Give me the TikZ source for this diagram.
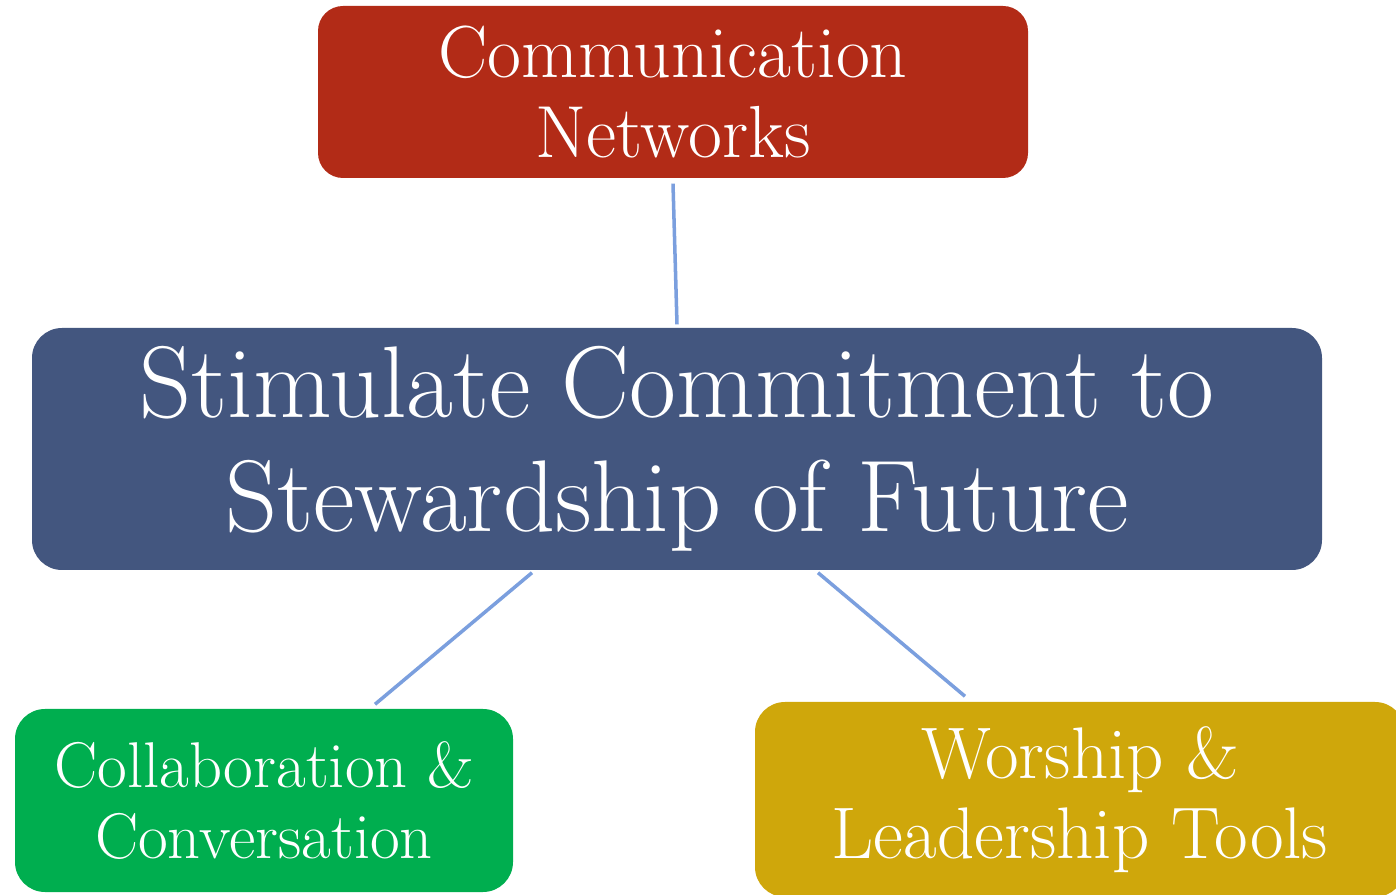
\documentclass[tikz,border=0pt]{standalone}
\usepackage{fontspec}
\usetikzlibrary{positioning}
\definecolor{commred}{RGB}{178,43,23}
\definecolor{stimblue}{RGB}{67,86,127}
\definecolor{collabgreen}{RGB}{0,174,79}
\definecolor{worshipgold}{RGB}{207,167,11}
\definecolor{linkblue}{RGB}{123,159,222}
\begin{document}
\begin{tikzpicture}[x=1cm,y=-1cm,
		box/.style={rounded corners=0.3cm, align=center, text=white, inner sep=0pt},
		link/.style={draw=linkblue, line width=1pt}]
		\useasboundingbox (0,0) rectangle (13.96,8.95);
		
		\node[box, fill=commred, minimum width=7.10cm, minimum height=1.72cm, rounded corners=0.25cm,
			font=\fontsize{21}{22.8}\selectfont] (comm) at (6.73,0.92) {Communication\\Networks};
		\node[box, fill=stimblue, minimum width=12.90cm, minimum height=2.42cm,
			font=\fontsize{29}{32.3}\selectfont] (stim) at (6.77,4.49) {Stimulate Commitment to\\Stewardship of Future};
		\node[box, fill=collabgreen, minimum width=4.98cm, minimum height=1.83cm,
			font=\fontsize{18.4}{20.2}\selectfont] (collab) at (2.64,8.005) {Collaboration \&\\Conversation};
		\node[box, fill=worshipgold, minimum width=6.50cm, minimum height=1.95cm,
			font=\fontsize{20.8}{22.7}\selectfont] (worship) at (10.80,7.995) {Worship \&\\Leadership Tools};
		
		\draw[link] ([yshift=-0.05cm]comm.south) -- ([yshift=0.03cm]stim.north);
		\draw[link] ([xshift=-1.45cm,yshift=-0.02cm]stim.south) -- ([xshift=1.11cm,yshift=0.04cm]collab.north);
		\draw[link] ([xshift=1.41cm,yshift=-0.02cm]stim.south) -- ([xshift=-1.15cm,yshift=0.05cm]worship.north);
	\end{tikzpicture}
\end{document}
